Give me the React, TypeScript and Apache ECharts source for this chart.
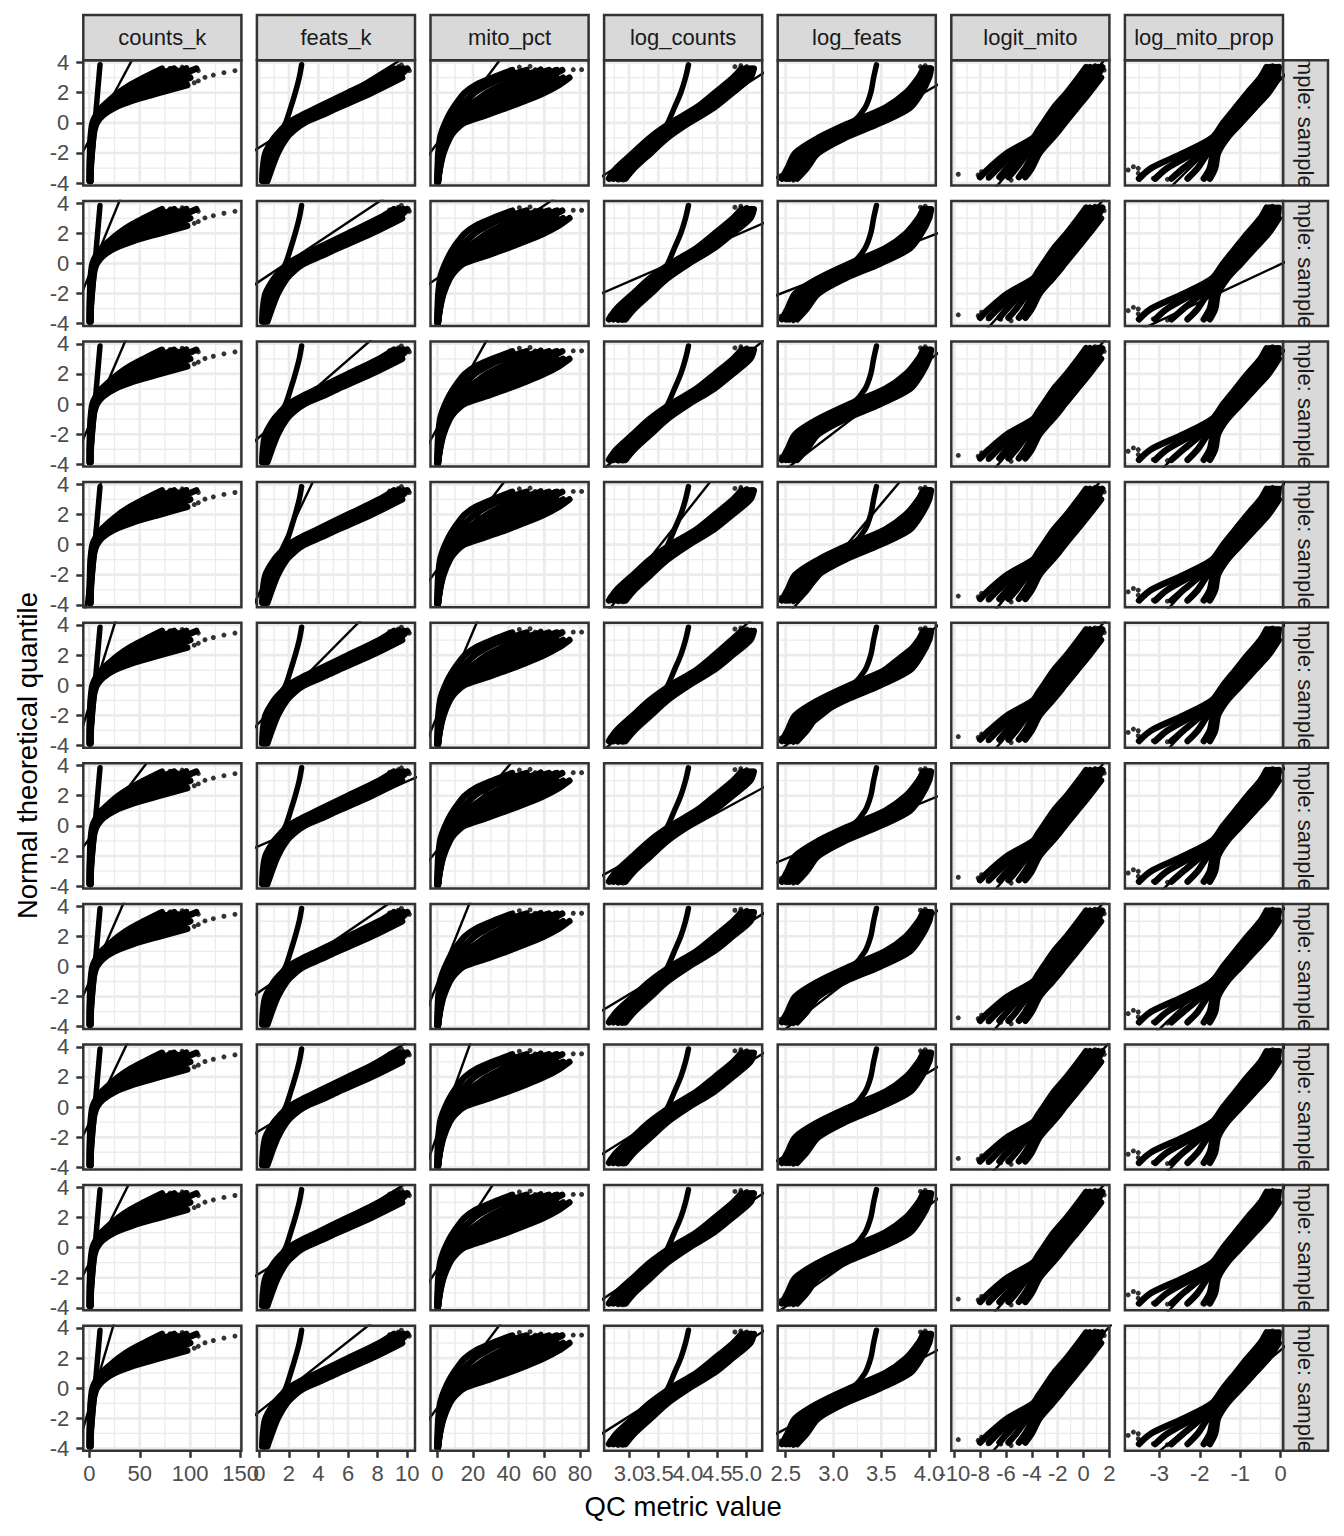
import React, { useEffect, useRef } from "react";
import * as echarts from "echarts";

const FONT = "'Liberation Sans', Arial, Helvetica, sans-serif";

// ---------- facets ----------
const METRICS = ["counts_k", "feats_k", "mito_pct", "log_counts", "log_feats", "logit_mito", "log_mito_prop"];
const SAMPLES = [
  "sample: sample01", "sample: sample02", "sample: sample03", "sample: sample04", "sample: sample05",
  "sample: sample06", "sample: sample07", "sample: sample08", "sample: sample09", "sample: sample10",
];

// ---------- axes ----------
const X_MIN = [-5.95, -0.16, -3.8, 2.577, 2.416, -10.23, -3.85];
const X_MAX = [150.7, 10.52, 84.8, 5.263, 4.071, 2.0, 0.057];
const X_TICKS = [[0, 50, 100, 150], [0, 2, 4, 6, 8, 10], [0, 20, 40, 60, 80], [3, 3.5, 4, 4.5, 5], [2.5, 3, 3.5, 4], [-10, -8, -6, -4, -2, 0, 2], [-3, -2, -1, 0]];
const X_MINOR = [[25, 75, 125], [1, 3, 5, 7, 9], [10, 30, 50, 70], [2.75, 3.25, 3.75, 4.25, 4.75, 5.25], [2.75, 3.25, 3.75], [-9, -7, -5, -3, -1, 1], [-3.5, -2.5, -1.5, -0.5]];
const X_DECIMALS = [0, 0, 0, 1, 1, 0, 0];
const Y_MIN = -4.15;
const Y_MAX = 4.15;
const Y_TICKS = [-4, -2, 0, 2, 4];
const Y_MINOR = [-3, -1, 1, 3];

// ---------- counts_k ----------
const COUNTS_V = [-3.85, -3, -2, -1, -0.5, 0, 0.5, 1, 1.5, 2, 2.5, 3, 3.6];
const COUNTS_CURVES = [
  [0.3, 0.4, 0.7, 1.3, 2.0, 3.2, 6.5, 12, 20, 29, 40, 54, 72],
  [0.5, 0.6, 1.0, 1.8, 2.6, 4.0, 7.5, 14, 23, 34, 47, 63, 84],
  [0.7, 0.8, 1.3, 2.3, 3.2, 4.8, 8.8, 16, 27, 40, 55, 73, 96],
  [0.8, 1.0, 1.6, 2.8, 3.8, 5.6, 10, 18.5, 31, 47, 65, 85, 106],
  [1.0, 1.2, 2.0, 3.3, 4.4, 6.5, 11.5, 21.5, 37, 57, 80, 100],
  [1.2, 1.5, 2.4, 3.8, 5.0, 7.5, 13.5, 25, 44, 70, 97],
];
const COUNTS_BRANCH_V = [-3.8, -2, 0, 2, 3.85];
const COUNTS_BRANCH_U = [0.6, 3.0, 5.6, 8.2, 10.6];
const COUNTS_DOTS = [[104, 2.66], [108, 2.78], [114.6, 3.02], [122.9, 3.17], [133.4, 3.33], [144.3, 3.46], [66.8, 3.39], [75, 3.44], [86.6, 3.55], [96.5, 3.66], [101.5, 3.5], [108, 3.46], [92, 3.7], [80, 3.62]];

// ---------- feats_k ----------
const FEATS_V = [-3.85, -3, -2, -1, -0.5, 0, 0.5, 1, 2, 3, 3.6];
const FEATS_CURVES = [
  [0.20, 0.25, 0.42, 1.00, 1.45, 1.95, 2.85, 3.90, 6.00, 8.10, 9.10],
  [0.28, 0.40, 0.62, 1.20, 1.67, 2.22, 3.17, 4.25, 6.40, 8.50, 9.45],
  [0.36, 0.55, 0.82, 1.40, 1.89, 2.49, 3.50, 4.60, 6.80, 8.90, 9.75],
  [0.45, 0.70, 1.03, 1.62, 2.11, 2.77, 3.85, 4.95, 7.20, 9.30, 10.0],
  [0.55, 0.85, 1.25, 1.85, 2.35, 3.05, 4.20, 5.30, 7.60, 9.65],
];
const FEATS_BRANCH_V = [-3.8, -3, -2, -1, 0, 1, 2, 3, 3.85];
const FEATS_BRANCH_U = [0.42, 0.55, 0.85, 1.25, 1.78, 2.12, 2.43, 2.70, 2.86];
const FEATS_DOTS = [[9.05, 3.62], [9.39, 3.73], [9.84, 3.51], [10.14, 3.46], [9.6, 3.85], [8.8, 3.55]];

// ---------- mito_pct ----------
const MITO_V = [-3.9, -3, -2, -1, -0.5, 0, 0.5, 1, 1.5, 2, 2.5, 3, 3.5];
const MITO_CURVES = [
  [0.0, 0.2, 0.6, 1.6, 2.8, 4.5, 6.5, 9, 12, 15.5, 21.5, 31, 42],
  [0.1, 0.5, 1.2, 2.8, 4.2, 5.5, 9, 12.5, 16.5, 21, 28, 37, 50],
  [0.2, 0.8, 1.8, 3.8, 5.6, 7, 11.5, 16.5, 22, 28, 36, 45, 58],
  [0.25, 0.95, 2.1, 4.3, 6.3, 8, 13.2, 19.2, 26, 33, 41.5, 50.5, 62.5],
  [0.3, 1.1, 2.4, 4.8, 7.0, 9, 15, 22, 30, 38, 47, 56, 67],
  [0.33, 1.2, 2.65, 5.35, 7.75, 10, 17.5, 26, 35, 44, 53, 61.5, 70],
  [0.35, 1.3, 2.9, 5.9, 8.5, 11, 20, 30, 40, 50, 59, 67],
  [0.38, 1.4, 3.2, 6.45, 9.25, 13, 23.5, 34.5, 45, 55, 63.5, 70.5],
  [0.4, 1.5, 3.5, 7.0, 10.0, 15, 27, 39, 50, 60, 68, 74],
];
const MITO_BRANCH_V: number[] = [];
const MITO_BRANCH_U: number[] = [];
const MITO_DOTS = [[41.7, 3.49], [52, 3.75], [54.8, 3.53], [63.2, 3.49], [66, 3.53], [76.2, 3.53], [80.9, 3.53], [58, 3.6], [46, 3.7]];

// ---------- log_counts ----------
const LOGC_V = [-3.7, -3, -2, -1, 0, 1, 2, 3, 3.6];
const LOGC_CURVES = [
  [2.66, 2.79, 3.07, 3.35, 3.71, 4.14, 4.46, 4.77, 4.91],
  [2.73, 2.87, 3.15, 3.43, 3.80, 4.22, 4.54, 4.85, 4.98],
  [2.80, 2.94, 3.22, 3.50, 3.87, 4.29, 4.61, 4.92, 5.03],
  [2.87, 3.02, 3.30, 3.58, 3.95, 4.37, 4.69, 4.99, 5.08],
  [2.94, 3.09, 3.37, 3.65, 4.02, 4.44, 4.76, 5.06, 5.12],
];
const LOGC_BRANCH_V = [-3.6, -3, -2, -1, 0, 1, 2, 3, 3.85];
const LOGC_BRANCH_U = [2.85, 2.98, 3.24, 3.51, 3.66, 3.77, 3.88, 3.96, 4.01];
const LOGC_DOTS = [[2.68, -3.46], [2.82, -3.79], [2.9, -3.79], [2.75, -3.6], [4.8, 3.73], [5.0, 3.73], [5.11, 3.62], [4.9, 3.8]];

// ---------- log_feats ----------
const LOGF_V = [-3.7, -3, -2, -1, 0, 1, 2, 3, 3.6];
const LOGF_CURVES = [
  [2.46, 2.52, 2.60, 2.84, 3.17, 3.54, 3.76, 3.89, 3.94],
  [2.50, 2.57, 2.66, 2.91, 3.25, 3.61, 3.80, 3.92, 3.97],
  [2.54, 2.62, 2.72, 2.98, 3.33, 3.68, 3.84, 3.95, 3.99],
  [2.58, 2.67, 2.78, 3.05, 3.41, 3.75, 3.88, 3.98, 4.01],
  [2.62, 2.72, 2.84, 3.12, 3.49, 3.80, 3.92, 4.00, 4.02],
];
const LOGF_BRANCH_V = [-3.6, -3, -2, -1, 0, 1, 2, 3, 3.85];
const LOGF_BRANCH_U = [2.55, 2.60, 2.70, 2.98, 3.20, 3.33, 3.39, 3.42, 3.45];
const LOGF_DOTS = [[2.45, -3.5], [2.52, -3.75], [2.58, -3.8], [3.91, 3.73], [4.0, 3.62], [3.96, 3.8]];

// ---------- logit_mito ----------
const LOGIT_V = [-3.6, -3, -2, -1, -0.5, 0, 1, 2, 3, 3.7];
const LOGIT_CURVES = [
  [-8.0, -7.3, -5.9, -3.9, -3.5, -3.1, -2.3, -1.3, -0.4, 0.2],
  [-7.3, -6.6, -5.3, -3.6, -3.2, -2.75, -1.9, -0.95, -0.05, 0.5],
  [-6.5, -5.9, -4.8, -3.3, -2.85, -2.4, -1.5, -0.6, 0.3, 0.85],
  [-5.8, -5.2, -4.3, -3.0, -2.5, -2.05, -1.15, -0.25, 0.65, 1.15],
  [-5.0, -4.5, -3.8, -2.7, -2.2, -1.75, -0.8, 0.1, 1.0, 1.45],
  [-4.5, -4.0, -3.4, -2.4, -1.9, -1.45, -0.5, 0.45, 1.35],
];
const LOGIT_BRANCH_V: number[] = [];
const LOGIT_BRANCH_U: number[] = [];
const LOGIT_DOTS = [[-9.69, -3.41], [-8.15, -3.46], [-7.89, -3.24], [-7.38, -3.68], [-7.0, -3.35], [-6.4, -3.7], [-5.6, -3.8], [0.2, 3.72], [0.9, 3.8], [1.6, 3.5], [1.3, 3.65]];

// ---------- log_mito_prop ----------
const LOGMP_V = [-3.7, -3, -2, -1, 0, 1, 2, 3, 3.7];
const LOGMP_CURVES = [
  [-3.5, -3.2, -2.4, -1.7, -1.42, -1.12, -0.82, -0.5, -0.35],
  [-3.1, -2.8, -2.15, -1.62, -1.33, -1.02, -0.71, -0.4, -0.27],
  [-2.7, -2.4, -1.95, -1.55, -1.24, -0.92, -0.6, -0.3, -0.2],
  [-2.3, -2.05, -1.8, -1.48, -1.15, -0.82, -0.5, -0.2, -0.12],
  [-1.9, -1.75, -1.66, -1.40, -1.06, -0.72, -0.4, -0.1, -0.05],
  [-1.75, -1.62, -1.55, -1.32, -0.98, -0.64, -0.3, -0.05],
];
const LOGMP_BRANCH_V: number[] = [];
const LOGMP_BRANCH_U: number[] = [];
const LOGMP_DOTS = [[-3.77, -3.13], [-3.64, -2.91], [-3.52, -3.02], [-3.52, -3.35], [-3.15, -3.68], [-3.0, -3.5], [-2.8, -3.75], [-0.35, 3.72], [-0.2, 3.8], [-0.1, 3.55]];

// ---------- qq reference lines: [value at quantile 0, slope per quantile unit], rows 1..10 ----------
const REF_COUNTS = [[9.0, 8.0], [4.6, 6.1], [8.9, 6.4], [3.9, 1.84], [6.2, 4.64], [9.8, 11.3], [6.6, 6.5], [7.4, 7.15], [7.6, 7.5], [5.6, 4.38]];
const REF_FEATS = [[2.69, 1.643], [1.82, 1.528], [2.57, 1.172], [1.58, 0.49], [2.5, 1.01], [3.1, 2.33], [2.52, 1.493], [2.68, 1.698], [2.85, 1.658], [2.0, 1.29]];
const REF_MITO = [[8.6, 6.35], [12.2, 12.4], [7.6, 4.75], [10.66, 6.44], [7.25, 3.58], [11.6, 7.15], [3.86, 3.39], [5.63, 3.05], [7.96, 5.55], [8.3, 6.34]];
const REF_LOGC = [[3.96, 0.40], [3.71, 0.59], [3.94, 0.32], [3.535, 0.2027], [3.82, 0.29], [4.09, 0.47], [3.79, 0.426], [3.82, 0.41], [3.88, 0.389], [3.755, 0.404]];
const REF_LOGF = [[3.40, 0.274], [3.27, 0.412], [3.396, 0.207], [3.14, 0.133], [3.30, 0.20], [3.34, 0.384], [3.34, 0.203], [3.37, 0.271], [3.37, 0.223], [3.32, 0.305]];
const REF_LOGIT = [[-2.53, 0.996], [-2.9, 1.05], [-2.6, 1.0], [-2.7, 0.95], [-2.6, 1.0], [-2.6, 1.0], [-2.7, 1.0], [-2.5, 1.05], [-2.6, 1.0], [-2.46, 1.094]];
const REF_LOGMP = [[-1.1, 0.38], [0.04, 0.797], [-1.27, 0.387], [-1.31, 0.346], [-1.3, 0.35], [-1.33, 0.374], [-1.39, 0.387], [-1.3, 0.35], [-1.3, 0.35], [-1.13, 0.447]];

const PANELS = [
  { v: COUNTS_V, curves: COUNTS_CURVES, bv: COUNTS_BRANCH_V, bu: COUNTS_BRANCH_U, dots: COUNTS_DOTS, ref: REF_COUNTS },
  { v: FEATS_V, curves: FEATS_CURVES, bv: FEATS_BRANCH_V, bu: FEATS_BRANCH_U, dots: FEATS_DOTS, ref: REF_FEATS },
  { v: MITO_V, curves: MITO_CURVES, bv: MITO_BRANCH_V, bu: MITO_BRANCH_U, dots: MITO_DOTS, ref: REF_MITO },
  { v: LOGC_V, curves: LOGC_CURVES, bv: LOGC_BRANCH_V, bu: LOGC_BRANCH_U, dots: LOGC_DOTS, ref: REF_LOGC },
  { v: LOGF_V, curves: LOGF_CURVES, bv: LOGF_BRANCH_V, bu: LOGF_BRANCH_U, dots: LOGF_DOTS, ref: REF_LOGF },
  { v: LOGIT_V, curves: LOGIT_CURVES, bv: LOGIT_BRANCH_V, bu: LOGIT_BRANCH_U, dots: LOGIT_DOTS, ref: REF_LOGIT },
  { v: LOGMP_V, curves: LOGMP_CURVES, bv: LOGMP_BRANCH_V, bu: LOGMP_BRANCH_U, dots: LOGMP_DOTS, ref: REF_LOGMP },
];

// ---------- layout ----------
const L0 = 83.3;
const T0 = 60.3;
const PW = 158.1;
const PH = 125.1;
const CP = 173.6;
const RP = 140.6;
const STRIP_TOP = 15;
const STRIP_W = 45;
const BAND_W = 6.5;

function bottomAxis(gi: number, c: number, ticks: number[], show: boolean, lineCol: string) {
  return {
    type: "value", gridIndex: gi, min: X_MIN[c], max: X_MAX[c], position: "bottom", offset: 0,
    axisLine: { show: false, onZero: false }, splitLine: { show: false }, minorSplitLine: { show: false },
    axisTick: { show, interval: 0, customValues: ticks, length: 7, lineStyle: { color: lineCol, width: 2.5 } },
    axisLabel: {
      show, interval: 0, customValues: ticks, color: "#4D4D4D", fontSize: 22, fontFamily: FONT, margin: 12,
      showMinLabel: true, showMaxLabel: true, hideOverlap: false,
      formatter: (v: number) => v.toFixed(X_DECIMALS[c]),
    },
  };
}

function buildOption() {
  const grid: any[] = [];
  const xAxis: any[] = [];
  const yAxis: any[] = [];
  const series: any[] = [];
  const graphic: any[] = [];
  const extraX: any[] = [];
  const extraY: any[] = [];
  const lineCol = "#333333";
  const lastRow = SAMPLES.length - 1;

  for (let r = 0; r < SAMPLES.length; r++) {
    for (let c = 0; c < METRICS.length; c++) {
      const gi = grid.length;
      const left = L0 + c * CP;
      const top = T0 + r * RP;
      const P = PANELS[c];
      grid.push({ left, top, width: PW, height: PH, containLabel: false, outerBoundsMode: "none", show: false });
      // even-indexed tick labels on the main axis, odd-indexed ones on a twin axis so none is dropped
      const evenTicks = X_TICKS[c].filter((_, i) => i % 2 === 0);
      const oddTicks = X_TICKS[c].filter((_, i) => i % 2 === 1);
      xAxis.push(bottomAxis(gi, c, evenTicks, r === lastRow, lineCol));
      if (r === lastRow) extraX.push(bottomAxis(gi, c, oddTicks, true, lineCol));

      const evenY = Y_TICKS.filter((_, i) => i % 2 === 0);
      const oddY = Y_TICKS.filter((_, i) => i % 2 === 1);
      const yAx = (ticks: number[], show: boolean) => ({
        type: "value", gridIndex: gi, min: Y_MIN, max: Y_MAX, position: "left", offset: 0,
        axisLine: { show: false, onZero: false }, splitLine: { show: false }, minorSplitLine: { show: false },
        axisTick: { show, interval: 0, customValues: ticks, length: 7, lineStyle: { color: lineCol, width: 2.5 } },
        axisLabel: {
          show, interval: 0, customValues: ticks, color: "#4D4D4D", fontSize: 22, fontFamily: FONT, margin: 14,
          showMinLabel: true, showMaxLabel: true, hideOverlap: false,
          formatter: (v: number) => String(v),
        },
      });
      yAxis.push(yAx(evenY, c === 0));
      if (c === 0) extraY.push(yAx(oddY, true));

      // grid lines
      const gl: number[][] = [];
      X_MINOR[c].forEach((v) => gl.push([0, v, 0]));
      Y_MINOR.forEach((v) => gl.push([1, v, 0]));
      X_TICKS[c].forEach((v) => gl.push([0, v, 1]));
      Y_TICKS.forEach((v) => gl.push([1, v, 1]));
      series.push({
        type: "custom", xAxisIndex: gi, yAxisIndex: gi, silent: true, z: 1, data: gl,
        renderItem: (_p: any, api: any) => {
          const dir = api.value(0);
          const val = api.value(1);
          const major = api.value(2) === 1;
          const p1 = dir === 0 ? api.coord([val, Y_MIN]) : api.coord([X_MIN[c], val]);
          const p2 = dir === 0 ? api.coord([val, Y_MAX]) : api.coord([X_MAX[c], val]);
          return {
            type: "line",
            shape: { x1: p1[0], y1: p1[1], x2: p2[0], y2: p2[1] },
            style: { stroke: "#EBEBEB", lineWidth: major ? 2.6 : 1.3 },
          };
        },
      });

      // sample curves
      P.curves.forEach((curve) => {
        series.push({
          type: "line", xAxisIndex: gi, yAxisIndex: gi, silent: true, z: 3, clip: true,
          data: curve.map((u, i) => [u, P.v[i]]),
          showSymbol: false, symbol: "none", smooth: 0.3,
          lineStyle: { color: "#000000", width: BAND_W, cap: "round", join: "round" },
        });
      });
      if (P.bu.length) {
        series.push({
          type: "line", xAxisIndex: gi, yAxisIndex: gi, silent: true, z: 3, clip: true,
          data: P.bu.map((u, i) => [u, P.bv[i]]),
          showSymbol: false, symbol: "none", smooth: 0.3,
          lineStyle: { color: "#000000", width: 5.5, cap: "round", join: "round" },
        });
      }
      series.push({
        type: "scatter", xAxisIndex: gi, yAxisIndex: gi, silent: true, z: 3,
        data: P.dots, symbolSize: 5, itemStyle: { color: "#000000" },
      });
      // qq line
      const [a, b] = P.ref[r];
      series.push({
        type: "line", xAxisIndex: gi, yAxisIndex: gi, silent: true, z: 4, clip: true,
        data: [[a + b * -6, -6], [a + b * 6, 6]],
        showSymbol: false, symbol: "none",
        lineStyle: { color: "#000000", width: 2.4 },
      });

      graphic.push({
        type: "rect", silent: true, z: 100,
        shape: { x: left, y: top, width: PW, height: PH },
        style: { fill: "none", stroke: lineCol, lineWidth: 2.5 },
      });
    }
  }

  // top strips
  METRICS.forEach((m, c) => {
    const left = L0 + c * CP;
    graphic.push({
      type: "rect", silent: true, z: 100,
      shape: { x: left, y: STRIP_TOP, width: PW, height: T0 - STRIP_TOP },
      style: { fill: "#D9D9D9", stroke: lineCol, lineWidth: 2.5 },
    });
    graphic.push({
      type: "text", silent: true, z: 101, x: left + PW / 2, y: (STRIP_TOP + T0) / 2,
      style: { text: m, fontSize: 22, fontFamily: FONT, fill: "#1A1A1A", align: "center", verticalAlign: "middle" },
    });
  });

  // right strips (clipped labels)
  const stripLeft = L0 + 6 * CP + PW;
  SAMPLES.forEach((s, r) => {
    const gi = grid.length;
    const top = T0 + r * RP;
    grid.push({
      left: stripLeft, top, width: STRIP_W, height: PH, containLabel: false, outerBoundsMode: "none",
      show: true, backgroundColor: "#D9D9D9", borderColor: lineCol, borderWidth: 2.5,
    });
    xAxis.push({ type: "value", gridIndex: gi, min: 0, max: 1, show: false });
    yAxis.push({ type: "value", gridIndex: gi, min: 0, max: 1, show: false });
    series.push({
      type: "custom", xAxisIndex: gi, yAxisIndex: gi, silent: true, z: 5, clip: true,
      data: [[0.5, 0.5]],
      renderItem: (_p: any, api: any) => {
        const p = api.coord([api.value(0), api.value(1)]);
        return {
          type: "text", x: p[0], y: p[1], rotation: -Math.PI / 2,
          style: { text: s, fontSize: 22, fontFamily: FONT, fill: "#1A1A1A", align: "center", verticalAlign: "middle" },
        };
      },
    });
  });

  // twin axes appended after all indexed axes
  extraX.forEach((ax) => xAxis.push(ax));
  extraY.forEach((ax) => yAxis.push(ax));

  // axis titles
  graphic.push({
    type: "text", silent: true, z: 101, x: 27, y: T0 + (9 * RP + PH) / 2, rotation: Math.PI / 2,
    style: { text: "Normal theoretical quantile", fontSize: 27.5, fontFamily: FONT, fill: "#000000", align: "center", verticalAlign: "middle" },
  });
  graphic.push({
    type: "text", silent: true, z: 101, x: L0 + (6 * CP + PW) / 2, y: 1506.5,
    style: { text: "QC metric value", fontSize: 27.5, fontFamily: FONT, fill: "#000000", align: "center", verticalAlign: "middle" },
  });

  return {
    animation: false,
    backgroundColor: "#FFFFFF",
    textStyle: { fontFamily: FONT },
    grid, xAxis, yAxis, series, graphic,
  };
}

export default function App() {
  const ref = useRef<HTMLDivElement>(null);
  useEffect(() => {
    if (!ref.current) return;
    const chart = echarts.init(ref.current, null, { renderer: "svg" });
    chart.setOption(buildOption() as any);
    return () => chart.dispose();
  }, []);
  return <div ref={ref} style={{ position: "absolute", left: 0, top: 0, width: 1344, height: 1536 }} />;
}
